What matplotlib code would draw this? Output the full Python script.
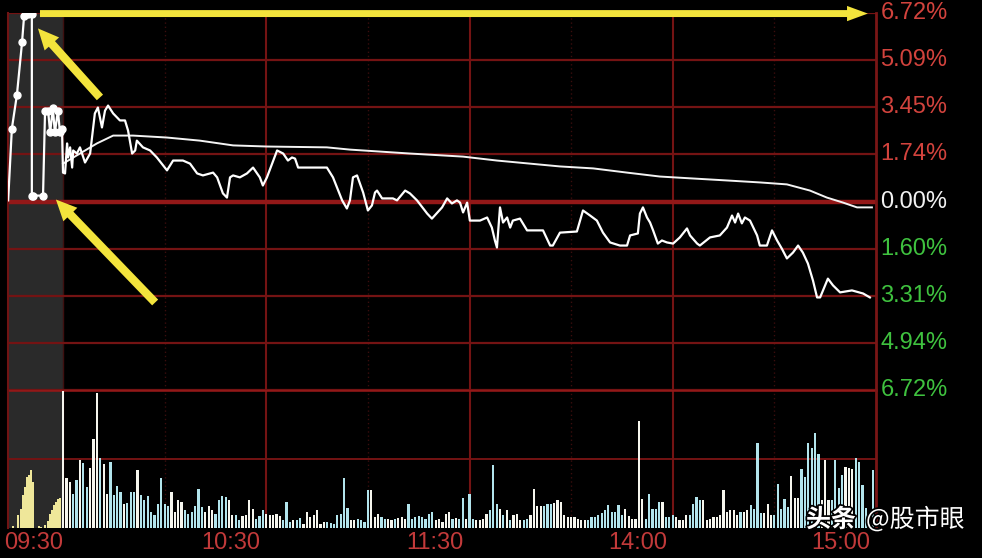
import numpy as np
import matplotlib
matplotlib.use("Agg")
import matplotlib.pyplot as plt
import matplotlib.patheffects as pe
from matplotlib.transforms import ScaledTranslation

# time axis: minutes after 09:30 (13:00 follows 11:30), negatives = call auction
X_MIN, X_MAX = -16.24, 240

AUCTION_T = [-16.2, -15.1, -13.6, -12.1, -11.5, -10.3, -9.2, -9.2, -8.9, -5.9,
             -5.3, -4.4, -3.8, -3.0, -2.4, -1.5, -0.9, -0.3]
AUCTION_PCT = [0.04, 2.60, 3.81, 5.67, 6.60, 6.70, 6.70, 0.21, 0.21, 0.21,
               3.24, 3.24, 2.46, 3.32, 2.46, 3.24, 2.46, 2.60]

PRICE_T = [0, 0.6, 1.2, 1.5, 2.1, 2.7, 3.0, 4.1, 5.0, 6.5,
           8.0, 9.4, 10.3, 11.5, 12.4, 13.3, 14.8, 16.8, 18.3, 19.2,
           20.4, 21.3, 21.8, 23.6, 25.7, 27.7, 30.7, 32.5, 35.4, 37.5,
           39.6, 41.3, 44.3, 45.5, 47.2, 48.4, 49.3, 50.2, 52.2, 54.3,
           56.1, 58.1, 59.0, 60.2, 63.2, 65.0, 66.4, 67.6, 68.5, 69.4,
           77.9, 79.7, 82.4, 83.8, 84.7, 85.6, 86.8, 88.6, 90.0, 91.2,
           92.1, 92.7, 94.2, 97.4, 98.6, 101.0, 102.4, 104.5, 107.5, 108.9,
           111.9, 113.4, 114.8, 116.3, 117.2, 118.1, 119.3, 120.1, 123.1, 125.2,
           126.6, 127.5, 128.1, 129.0, 129.9, 131.1, 132.0, 132.8, 134.9, 137.0,
           141.7, 143.8, 144.6, 146.7, 151.7, 153.5, 155.6, 157.6, 159.4, 161.5,
           164.4, 166.5, 167.4, 169.7, 170.3, 171.2, 172.4, 173.3, 174.2, 175.6,
           176.8, 178.3, 180.1, 182.1, 184.2, 185.1, 187.2, 188.0, 191.0, 193.9,
           196.0, 197.5, 198.4, 199.3, 200.4, 201.3, 202.8, 204.9, 205.7, 207.8,
           209.3, 210.8, 212.2, 213.7, 215.5, 217.0, 218.4, 219.9, 221.4, 222.6,
           223.5, 225.8, 227.3, 229.4, 232.9, 236.2, 238.2]
PRICE_PCT = [1.03, 1.00, 2.07, 1.57, 1.93, 1.21, 1.82, 1.71, 1.93, 1.39,
             1.71, 3.14, 3.35, 2.64, 3.24, 3.42, 3.14, 2.89, 2.89, 2.53,
             1.71, 1.82, 2.17, 1.93, 1.82, 1.57, 1.11, 1.46, 1.46, 1.35,
             1.00, 0.93, 1.03, 0.86, 0.29, 0.14, 0.86, 0.93, 0.86, 1.00,
             1.21, 0.86, 0.57, 0.86, 1.82, 1.71, 1.46, 1.57, 1.53, 1.21,
             1.21, 0.86, 0.04, -0.25, 0.04, 0.86, 0.93, 0.32, -0.32, -0.14,
             0.32, 0.39, 0.11, 0.11, 0.04, 0.39, 0.29, 0.04, -0.43, -0.61,
             -0.21, 0.11, -0.07, 0.04, -0.04, -0.39, -0.04, -0.68, -0.68, -0.57,
             -0.93, -1.39, -1.64, -0.21, -0.75, -0.57, -0.93, -0.68, -0.61, -1.03,
             -1.03, -1.57, -1.57, -1.11, -1.07, -0.32, -0.50, -0.68, -1.11, -1.46,
             -1.57, -1.57, -1.21, -1.14, -0.43, -0.21, -0.57, -0.75, -1.03, -1.50,
             -1.39, -1.46, -1.50, -1.28, -0.96, -1.21, -1.50, -1.57, -1.28, -1.21,
             -0.93, -0.50, -0.75, -0.43, -0.78, -0.57, -0.68, -1.21, -1.57, -1.57,
             -1.03, -1.39, -1.68, -2.03, -1.82, -1.57, -1.82, -2.21, -2.82, -3.42,
             -3.42, -2.75, -2.99, -3.24, -3.17, -3.28, -3.42]

AVG_T = [0, 5.0, 10.0, 14.8, 20.7, 30.7, 40.4, 50.2, 60.2, 77.9, 84.7, 102.4, 118.1,
         128.1, 146.7, 156.5, 166.5, 176.2, 186.0, 196.0, 205.7, 213.7, 220.5, 225.5,
         230.3, 234.4, 238.8]
AVG_PCT = [1.35, 1.71, 2.07, 2.35, 2.35, 2.28, 2.17, 2.00, 1.96, 1.93, 1.85, 1.71, 1.60,
           1.46, 1.25, 1.18, 1.03, 0.89, 0.82, 0.75, 0.68, 0.61, 0.39, 0.14,
           -0.04, -0.21, -0.21]

AUCTION_VOL_T = [-14.8, -13.3, -12.4, -11.8, -11.2, -10.6, -10.0, -9.4, -8.9, -7.1,
                 -6.5, -5.2, -4.3, -3.8, -3.2, -2.7, -2.1, -1.6, -1.0]
AUCTION_VOL = [2, 13, 19, 33, 41, 51, 53, 58, 46, 2, 1, 3, 7, 14, 18, 23, 26, 29, 30]

# one bar per minute, 09:30 .. 15:00
VOLUME = [136, 50, 46, 34, 48, 68, 65, 41, 60, 88,
          134, 69, 64, 34, 66, 33, 42, 36, 24, 25,
          36, 36, 58, 33, 28, 32, 16, 13, 24, 50,
          24, 22, 36, 16, 28, 26, 18, 14, 16, 22,
          39, 21, 16, 22, 18, 14, 28, 32, 31, 28,
          13, 13, 8, 12, 13, 28, 19, 9, 12, 18,
          14, 13, 13, 14, 12, 8, 26, 6, 8, 8,
          10, 4, 16, 11, 13, 18, 4, 6, 6, 5,
          4, 13, 14, 50, 20, 8, 8, 9, 8, 6,
          38, 38, 11, 14, 11, 9, 9, 8, 9, 10,
          11, 9, 24, 9, 11, 12, 11, 9, 14, 16,
          8, 9, 6, 14, 16, 9, 10, 9, 30, 9,
          34, 9, 8, 8, 9, 14, 18, 63, 24, 19,
          13, 18, 8, 13, 14, 8, 8, 9, 13, 39,
          22, 22, 22, 24, 24, 25, 28, 26, 13, 11,
          11, 11, 9, 8, 8, 8, 11, 11, 13, 15,
          18, 23, 16, 16, 23, 13, 19, 12, 9, 9,
          106, 29, 9, 34, 19, 19, 26, 26, 11, 11,
          13, 11, 8, 8, 13, 13, 24, 31, 28, 28,
          8, 9, 11, 11, 13, 38, 16, 18, 18, 13,
          16, 16, 18, 23, 19, 84, 15, 15, 24, 13,
          13, 44, 19, 29, 21, 52, 30, 30, 59, 51,
          84, 79, 94, 73, 28, 68, 28, 28, 68, 40,
          53, 61, 60, 59, 69, 66, 43, 20, 15, 58]
VOL_MAX = 137

PCT_LIMIT = 6.72
PCT_LABELS = ["6.72%", "5.09%", "3.45%", "1.74%", "0.00%", "1.60%", "3.31%", "4.94%", "6.72%"]
TIME_TICKS = [0, 60, 120, 180, 240]
TIME_LABELS = ["09:30", "10:30", "11:30", "14:00", "15:00"]

# arrows (tail -> head), in minutes / percent
ARROWS = [((-6.8, 6.70), (237.6, 6.70)),
          ((10.9, 3.71), (-7.4, 6.17)),
          ((27.2, -3.60), (-2.1, 0.07))]

RED = "#d2433d"
GREEN = "#3fc23f"
GRID = "#741313"
YELLOW = "#f3e43c"
FONT = ["Liberation Sans", "DejaVu Sans"]

W, H = 982, 558
fig = plt.figure(figsize=(W / 100, H / 100), dpi=100, facecolor="black")
ax = fig.add_axes([8 / W, 1 - 390 / H, 868 / W, 377 / H])
axv = fig.add_axes([8 / W, 1 - 528 / H, 868 / W, 138 / H])

for a in (ax, axv):
    a.set_facecolor("black")
    a.set_xlim(X_MIN, X_MAX)
    a.set_xticks([])
    a.set_yticks([])
    for s in ("top", "bottom"):
        a.spines[s].set_visible(False)
    a.spines["left"].set_color("#701414")
    a.spines["left"].set_linewidth(1.5)
    a.spines["right"].set_color("#7a1616")
    a.spines["right"].set_linewidth(2)
    a.axvspan(X_MIN, 0, color="#2a2a2a", zorder=0, lw=0)
    a.axvline(0, color="#3e1010", lw=1, zorder=1)
    for t in (60, 120, 180):
        a.axvline(t, color=GRID, lw=1.5, zorder=1)
    for t in (30, 90, 150, 210):
        a.axvline(t, color="#3a0d0d", lw=1, ls=(0, (1, 2)), zorder=1)

# price panel
ax.set_ylim(-PCT_LIMIT, PCT_LIMIT)
levels = np.linspace(PCT_LIMIT, -PCT_LIMIT, len(PCT_LABELS))
for lvl, lab in zip(levels, PCT_LABELS):
    if abs(lvl) < 1e-9:
        ax.axhline(lvl, color="#931818", lw=3.2, zorder=1)
        col = "#f2f2f2"
    else:
        ax.axhline(lvl, color=GRID, lw=1.6, zorder=1)
        col = RED if lvl > 0 else GREEN
    ax.text(1.005, lvl, lab, transform=ax.get_yaxis_transform(), ha="left", va="center",
            fontsize=17, color=col, family=FONT, clip_on=False)

ax.plot(AVG_T, AVG_PCT, color="#f4f4f4", lw=1.4, zorder=3)
ax.plot(AUCTION_T + PRICE_T, AUCTION_PCT + PRICE_PCT, color="white", lw=1.6, zorder=4)
ax.plot(AUCTION_T[1:], AUCTION_PCT[1:], "o", ms=5, color="white", zorder=4)

for tail, head in ARROWS:
    big = tail[1] != head[1]
    ax.annotate("", xy=head, xytext=tail, annotation_clip=False, zorder=6,
                arrowprops=dict(width=6 if big else 5, headwidth=14 if big else 11,
                                headlength=15, shrink=0, color=YELLOW, lw=0))

# volume panel
axv.set_ylim(0, VOL_MAX)
axv.axhline(VOL_MAX, color="#931818", lw=2.6, zorder=1)
axv.axhline(VOL_MAX / 2, color=GRID, lw=1.4, zorder=1)
minutes = np.arange(len(VOLUME))
px = np.interp(minutes, PRICE_T, PRICE_PCT)
up = np.concatenate([[True], np.diff(px) >= 0])
colors = np.where(up, "#f6f6ee", "#b2e4ec")
axv.bar(minutes, VOLUME, width=0.65, color=colors, zorder=3)
axv.bar(AUCTION_VOL_T, AUCTION_VOL, width=0.6, color="#efe79a", zorder=3)

shift = ScaledTranslation(-6 / 100, 0, fig.dpi_scale_trans)
for t, lab in zip(TIME_TICKS, TIME_LABELS):
    if t == 0:
        axv.text(0, -15 / 138, lab, transform=axv.get_xaxis_transform(),
                 ha="right", va="center", fontsize=17, color="#c23a3a", family=FONT)
    else:
        axv.text(t, -15 / 138, lab, transform=axv.get_xaxis_transform() + shift,
                 ha="right", va="center", fontsize=17, color="#c23a3a", family=FONT,
                 clip_on=False)

# watermark
stroke = [pe.withStroke(linewidth=2.5, foreground="black")]
fig.text(806 / W, 1 - 520 / H, "头条", fontsize=18, fontweight="bold", color="white",
         family=["Noto Sans CJK SC", "DejaVu Sans"], va="center", path_effects=stroke)
fig.text(866 / W, 1 - 520 / H, "@股市眼", fontsize=18, color="white",
         family=["Noto Sans CJK SC", "DejaVu Sans"], va="center", path_effects=stroke)

fig.savefig("out.png", dpi=100, facecolor="black")
